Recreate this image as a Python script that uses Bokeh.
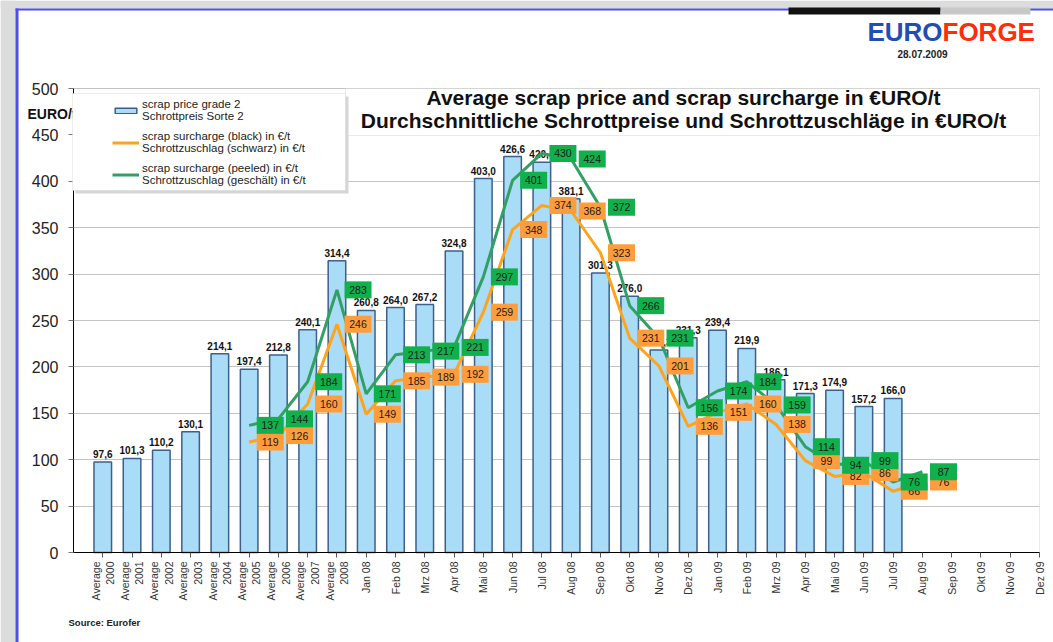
import math
from bokeh.plotting import figure
from bokeh.models import (Range1d, FixedTicker, Label, BoxAnnotation, Legend,
                          LegendItem, ColumnDataSource)
from bokeh.core.properties import value
from bokeh.embed import file_html
from bokeh.resources import INLINE

# ---------------- data ----------------
categories = ["Average\n2000", "Average\n2001", "Average\n2002", "Average\n2003",
              "Average\n2004", "Average\n2005", "Average\n2006", "Average\n2007",
              "Average\n2008",
              "Jan 08", "Feb 08", "Mrz 08", "Apr 08", "Mai 08", "Jun 08",
              "Jul 08", "Aug 08", "Sep 08", "Okt 08", "Nov 08", "Dez 08",
              "Jan 09", "Feb 09", "Mrz 09", "Apr 09", "Mai 09", "Jun 09",
              "Jul 09", "Aug 09", "Sep 09", "Okt 09", "Nov 09", "Dez 09"]
scrap_price = [97.6, 101.3, 110.2, 130.1, 214.1, 197.4, 212.8, 240.1, 314.4,
               260.8, 264.0, 267.2, 324.8, 403.0, 426.6, 420.4, 381.1, 301.3,
               276.0, 218.3, 231.3, 239.4, 219.9, 186.1, 171.3, 174.9, 157.2,
               166.0]
surcharge_black = [119, 126, 160, 246, 149, 185, 189, 192, 259, 348, 374, 368,
                   323, 231, 201, 136, 151, 160, 138, 99, 82, 86, 66, 76]
surcharge_peeled = [137, 144, 184, 283, 171, 213, 217, 221, 297, 401, 430, 424,
                    372, 266, 231, 156, 174, 184, 159, 114, 94, 99, 76, 87]
surcharge_start = 5  # surcharges begin at "Average 2005"
y_ticks = list(range(0, 501, 50))

legend_labels = ["scrap price grade 2\nSchrottpreis Sorte 2",
                 "scrap surcharge (black) in €/t\nSchrottzuschlag (schwarz) in €/t",
                 "scrap surcharge (peeled) in €/t\nSchrottzuschlag (geschält) in €/t"]
title_lines = ["Average scrap price and scrap surcharge in €URO/t",
               "Durchschnittliche Schrottpreise und Schrottzuschläge in €URO/t"]

# ---------------- styles ----------------
FONT = "Liberation Sans"
BAR_FILL = "#a9dcf6"
BAR_LINE = "#3d5f8a"
ORANGE = "#ffa31a"
ORANGE_BOX = "#ff9d3c"
GREEN = "#32a063"
GREEN_BOX = "#10b04c"

W, H = 1053, 642
# plot area on the canvas (pixels) and its data extent
FL, FR, FT, FB = 73, 1039, 88, 552
X0, X1, Y0, Y1 = -1, 32, 0, 500
XS = (FR - FL) / (X1 - X0)
YS = (FB - FT) / (Y1 - Y0)


def dxp(px):
    return X0 + (px - FL) / XS


def dyp(py):
    return Y0 + (FB - py) / YS


p = figure(width=W, height=H, output_backend="svg", toolbar_location=None,
           x_range=Range1d(dxp(0), dxp(W)), y_range=Range1d(dyp(H), dyp(0)),
           min_border=0)
p.title.visible = False
p.background_fill_color = "white"
p.border_fill_color = "white"
p.outline_line_color = None

# axes (placed at the plot-area edges)
xa = p.xaxis[0]
xa.fixed_location = Y0
xa.bounds = (X0, X1)
xa.ticker = FixedTicker(ticks=list(range(len(categories))))
xa.major_label_overrides = {i: c for i, c in enumerate(categories)}
xa.major_label_orientation = math.pi / 2
xa.major_label_text_font = FONT
xa.major_label_text_font_size = "10.5px"
xa.major_label_text_color = "#333333"
xa.major_tick_out = 5
xa.major_tick_in = 0
xa.minor_tick_line_color = None
xa.axis_line_color = "black"
xa.major_tick_line_color = "#555555"
xa.major_label_standoff = 4

ya = p.yaxis[0]
ya.fixed_location = X0
ya.bounds = (Y0, Y1)
ya.ticker = FixedTicker(ticks=y_ticks)
ya.major_label_text_font = FONT
ya.major_label_text_font_size = "16px"
ya.major_label_text_color = "#222222"
ya.major_tick_out = 5
ya.major_tick_in = 0
ya.minor_tick_line_color = None
ya.axis_line_color = "black"
ya.major_tick_line_color = "#777777"
ya.major_label_standoff = 10

p.xgrid.grid_line_color = None
p.ygrid.grid_line_color = "#c4c4c4"
p.ygrid.bounds = (Y0, Y1)

# keep grid lines inside the plot area, then draw its border
for l, r in ((dxp(0), X0), (X1, dxp(W))):
    p.add_layout(BoxAnnotation(left=l, right=r, bottom=Y0 - 1, top=Y1 + 1,
                               fill_color="white", fill_alpha=1, line_color=None,
                               level="underlay"))
p.add_layout(BoxAnnotation(left=X0, right=X1, bottom=Y0, top=Y1, fill_alpha=0,
                           line_color="#b8b8b8", line_width=1, level="underlay"))

# bars
bar_src = ColumnDataSource(dict(
    x=list(range(len(scrap_price))),
    top=scrap_price,
    label=[f"{v:.1f}".replace(".", ",") for v in scrap_price]))
bars = p.vbar(x="x", top="top", width=0.6, source=bar_src,
              fill_color=BAR_FILL, line_color=BAR_LINE, line_width=1.5)
p.text(x="x", y="top", text="label", source=bar_src, text_align="center",
       text_baseline="bottom", y_offset=-4, text_font=value(FONT),
       text_font_style="bold", text_font_size="10px", text_color="#111111")

# lines
xs = list(range(surcharge_start, surcharge_start + len(surcharge_black)))
l_black = p.line(xs, surcharge_black, line_color=ORANGE, line_width=3)
l_peeled = p.line(xs, surcharge_peeled, line_color=GREEN, line_width=3)

# data labels (boxes to the right of each point)
lab_dx = 0.72
for vals, fill in ((surcharge_black, ORANGE_BOX), (surcharge_peeled, GREEN_BOX)):
    src = ColumnDataSource(dict(x=[x + lab_dx for x in xs], y=vals,
                                t=[str(v) for v in vals]))
    p.rect(x="x", y="y", width=27, height=17, width_units="screen",
           height_units="screen", source=src, fill_color=fill, line_color=None)
    p.text(x="x", y="y", text="t", source=src, text_align="center",
           text_baseline="middle", text_font=value(FONT),
           text_font_size="10.5px", text_color="#1a1a1a")

# ------------- decorations (slide frame) -------------
def box(l, r, t, b, color):
    p.add_layout(BoxAnnotation(left=dxp(l), right=dxp(r), top=dyp(t), bottom=dyp(b),
                               fill_color=color, fill_alpha=1, line_color=None))


box(0, 15, 0, H, "#dcdcdc")
box(0, W, 0, 8, "#dcdcdc")
box(15, 18, 8, H, "#4d4df2")
box(15, W, 8, 10, "#4d4df2")
box(788, 940, 7, 14, "#111111")
box(940, 1030, 7, 14, "#c8c8c8")


def label(px, py, text, size, color="#222222", align="left", style="bold"):
    p.add_layout(Label(x=dxp(px), y=dyp(py), text=text, text_align=align,
                       text_baseline="middle", text_font=FONT,
                       text_font_style=style, text_font_size=size,
                       text_color=color))


label(942, 31, "EURO", "26px", "#1f4fb4", "right")
label(942, 31, "FORGE", "26px", "#ff2d0a", "left")
label(922, 53, "28.07.2009", "10px", "#222222", "center")
label(68, 622, "Source: Eurofer", "9.5px")
label(27, 113, "EURO/t", "14px", "#111111")

# title box
p.add_layout(BoxAnnotation(left=dxp(345), right=X1, bottom=dyp(135), top=Y1,
                           fill_color="white", fill_alpha=1, line_color="#b8b8b8",
                           line_width=1))
for t, py in zip(title_lines, (97, 120)):
    label(683, py, t, "21px", "#111111", "center")

# legend box (with shadow) and legend
box(75, 348, 96, 193, "#d6d6d6")
p.add_layout(BoxAnnotation(left=dxp(72), right=dxp(345), bottom=dyp(190), top=dyp(93),
                           fill_color="white", fill_alpha=1, line_color="#c4c4c4",
                           line_width=1))
legend = Legend(items=[LegendItem(label=legend_labels[0], renderers=[bars]),
                       LegendItem(label=legend_labels[1], renderers=[l_black]),
                       LegendItem(label=legend_labels[2], renderers=[l_peeled])],
                location=(112, 456), orientation="vertical",
                border_line_color=None, background_fill_alpha=0,
                padding=0, margin=0, spacing=8, label_standoff=3,
                glyph_width=27, glyph_height=7,
                label_text_font=FONT, label_text_font_size="11.5px",
                label_text_color="#222222", label_text_line_height=1.1)
p.add_layout(legend)

open("out.html", "w").write(file_html(p, INLINE))
